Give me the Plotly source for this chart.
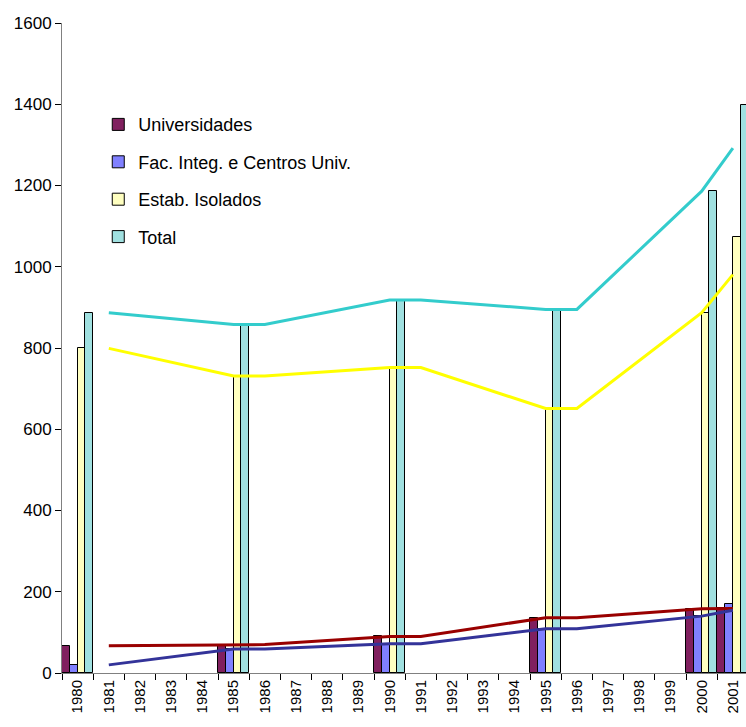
import plotly.graph_objects as go

years = [str(y) for y in range(1980, 2002)]
data_years = ["1980", "1985", "1990", "1995", "2000", "2001"]
universidades = [67, 70, 90, 136, 158, 160]
fac_integ = [20, 59, 72, 109, 140, 169]
estab_isolados = [799, 731, 752, 651, 887, 1074]
total = [887, 858, 918, 895, 1186, 1398]

series = [
    ("Universidades", universidades, "#80205F", "#990000"),
    ("Fac. Integ. e Centros Univ.", fac_integ, "#8080FF", "#333399"),
    ("Estab. Isolados", estab_isolados, "#FFFFC0", "#FFFF00"),
    ("Total", total, "#A0E0E0", "#33CCCC"),
]


def full(vals):
    m = dict(zip(data_years, vals))
    return [m.get(y) for y in years]


def moving_avg2(vals):
    # Excel-style 2-period moving average trendline (blanks skipped)
    f = full(vals)
    xs, ys = [], []
    for i in range(1, len(years)):
        pair = [v for v in (f[i - 1], f[i]) if v is not None]
        if pair:
            xs.append(years[i])
            ys.append(sum(pair) / len(pair))
    return xs, ys


fig = go.Figure()
for i, (name, vals, bc, lc) in enumerate(series):
    fig.add_trace(go.Bar(
        x=years, y=full(vals), name=name, marker_color=bc,
        marker_line_color="#000000", marker_line_width=1,
        legendgroup=str(i),
    ))
for i, (name, vals, bc, lc) in enumerate(series):
    xs, ys = moving_avg2(vals)
    fig.add_trace(go.Scatter(
        x=xs, y=ys, mode="lines", line=dict(color=lc, width=3),
        showlegend=False, hoverinfo="skip",
    ))

fig.update_layout(
    width=746, height=727,
    margin=dict(l=62, r=0, t=23, b=54),
    paper_bgcolor="white", plot_bgcolor="white",
    barmode="group", bargap=0, bargroupgap=0,
    font=dict(family="Liberation Sans, Arial, sans-serif", color="black"),
    legend=dict(
        x=0.053, y=0.872, xanchor="left", yanchor="top",
        font=dict(size=18), tracegroupgap=11,
        bgcolor="rgba(0,0,0,0)",
    ),
    xaxis=dict(
        type="category", categoryorder="array", categoryarray=years,
        range=[-0.5, 21.42], tickson="boundaries",
        ticks="outside", ticklen=6, tickcolor="#000000",
        tickangle=-90, tickfont=dict(size=15),
        showline=True, linecolor="#808080", linewidth=1,
        showgrid=False, zeroline=False,
    ),
    yaxis=dict(
        range=[0, 1600], tickvals=list(range(0, 1601, 200)),
        ticks="outside", ticklen=6, tickcolor="#000000",
        tickfont=dict(size=17),
        showline=True, linecolor="#808080", linewidth=1,
        showgrid=False, zeroline=False,
    ),
)

fig.write_html(
    "out.html",
    config={"displayModeBar": False},
    post_script="document.body.style.margin='0';document.body.style.overflow='hidden';",
)
